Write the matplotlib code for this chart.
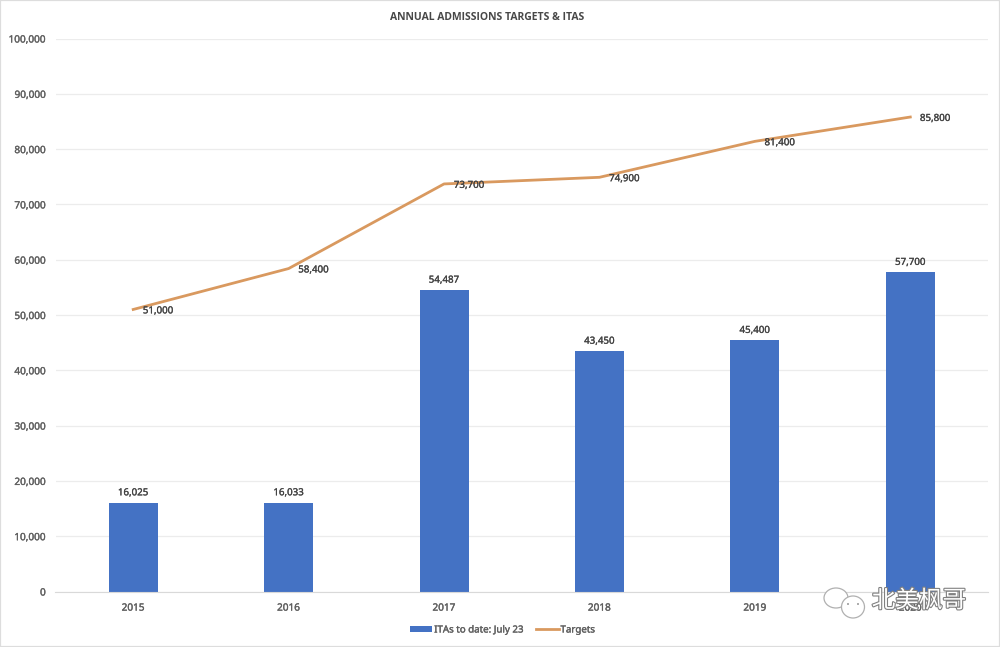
import matplotlib
matplotlib.use("Agg")
import matplotlib.pyplot as plt
import matplotlib.patheffects as pe
from matplotlib.patches import Rectangle, Ellipse

years = ["2015", "2016", "2017", "2018", "2019", "2020"]
itas = [16025, 16033, 54487, 43450, 45400, 57700]
targets = [51000, 58400, 73700, 74900, 81400, 85800]
yticks = list(range(0, 100001, 10000))

BLUE = "#4472c4"
ORANGE = "#d9995f"
GREY = "#606060"

plt.rcParams["font.family"] = ["Noto Sans", "DejaVu Sans"]

# blurry look of the screenshot: thin stroke thickens the small text
soft = [pe.withStroke(linewidth=0.25, foreground="#606060")]

fig = plt.figure(figsize=(10, 6.47), dpi=100)
ax = fig.add_axes([55.5 / 1000, 1 - 591.5 / 647, 932.5 / 1000, 553 / 647])

x = list(range(len(years)))
bars = ax.bar(x, itas, width=0.315, color=BLUE, zorder=2)
line, = ax.plot(x, targets, color=ORANGE, lw=2.0, zorder=3)

for i, v in enumerate(itas):
    ax.annotate(f"{v:,}", (i, v), xytext=(0, 4), textcoords="offset points",
                ha="center", va="bottom", fontsize=7, color="#404040", path_effects=soft)
for i, v in enumerate(targets):
    ax.annotate(f"{v:,}", (i, v), xytext=(18, -1), textcoords="offset points",
                ha="center", va="center", fontsize=7, color="#404040", path_effects=soft, zorder=4)

ax.set_xlim(-0.5, 5.5)
ax.set_ylim(0, 100000)
ax.set_xticks(x)
ax.set_xticklabels(years)
ax.set_yticks(yticks)
ax.set_yticklabels([f"{t:,}" for t in yticks])
ax.tick_params(length=0, labelsize=7.2, labelcolor=GREY, pad=7)
ax.tick_params(axis="x", pad=8)
for lab in ax.get_xticklabels() + ax.get_yticklabels():
    lab.set_path_effects(soft)
ax.grid(axis="y", color="#ececec", lw=0.9, zorder=0)
ax.set_axisbelow(True)
for s in ["top", "right", "left"]:
    ax.spines[s].set_visible(False)
ax.spines["bottom"].set_color("#d9d9d9")

fig.text(487.5 / 1000, 1 - 17 / 647, "ANNUAL ADMISSIONS TARGETS & ITAS", ha="center", va="center",
         fontsize=7.5, fontweight="bold", color="#484848", family=["Open Sans", "DejaVu Sans"])

leg = ax.legend([bars, line], ["ITAs to date: July 23", "Targets"], loc="center",
                bbox_to_anchor=(0.5025, 1 - 630 / 647), bbox_transform=fig.transFigure,
                ncol=2, frameon=False, labelcolor=GREY, handlelength=2.3,
                handleheight=0.45, handletextpad=0.2, columnspacing=1.3,
                prop={"size": 7})
for t in leg.get_texts():
    t.set_path_effects(soft)

# watermark over the 2020 tick label
halo = [pe.withStroke(linewidth=1.6, foreground="#808080")]
fig.text(919 / 1000, 1 - 601 / 647, "北美枫哥", ha="center", va="center", fontsize=17,
         color="white", family=["Noto Sans CJK SC", "DejaVu Sans"], path_effects=halo, zorder=10)
for cx, cy, w, h in [(836, 598, 24, 20), (853, 607, 23, 22)]:
    fig.add_artist(Ellipse((cx / 1000, 1 - cy / 647), w / 1000, h / 647, transform=fig.transFigure,
                           facecolor="white", edgecolor="#b0b0b0", lw=0.9, zorder=10))
for cx, cy in [(848, 604), (858, 604)]:
    fig.add_artist(Ellipse((cx / 1000, 1 - cy / 647), 2 / 1000, 2 / 647, transform=fig.transFigure,
                           facecolor="#999999", edgecolor="none", zorder=11))

# thin frame around the screenshot
fig.add_artist(Rectangle((0, 0), 1, 1, transform=fig.transFigure, fill=False,
                         edgecolor="#dddddd", lw=1.6))

fig.savefig("out.png", dpi=100)
